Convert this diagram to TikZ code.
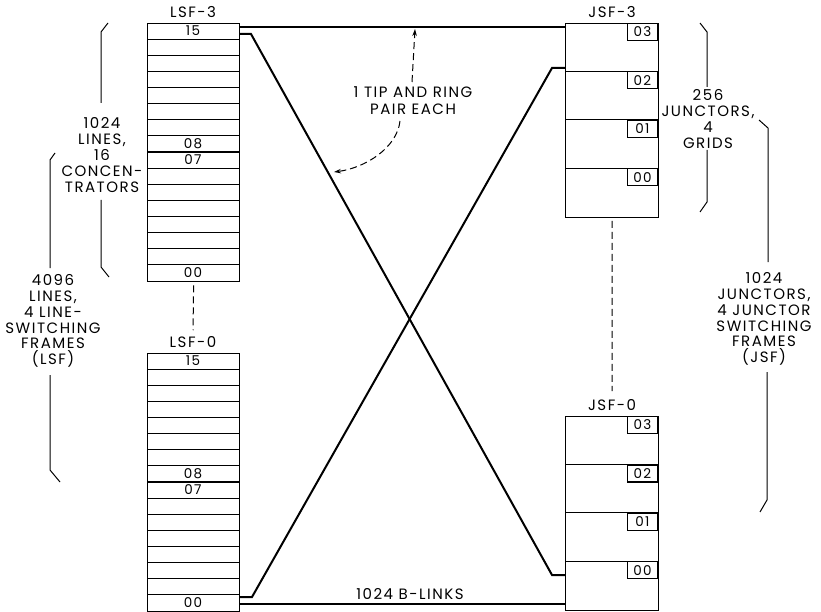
\documentclass[tikz,border=0pt]{standalone}
\usepackage{fontspec}
\setmainfont{Poppins}[LetterSpace=10]
\usetikzlibrary{arrows.meta}

\begin{document}
\begin{tikzpicture}[x=1pt, y=-1pt,
    txt/.style={font=\fontsize{15}{15.8}\selectfont, align=center, inner sep=0pt},
    num/.style={font=\fontsize{13.5}{14}\selectfont, inner sep=0pt},
    frame/.style={draw, line width=1.3pt, inner sep=0pt},
    link/.style={line width=2pt},
    note/.style={dashed, line width=1pt, dash pattern=on 7pt off 4pt}]
  \useasboundingbox (0,0) rectangle (821,612);
  % line switching frames
  \foreach \nm/\top/\lbl in {lsf3/23/LSF-3, lsf0/353/LSF-0} {
    \node[frame, minimum width=92, minimum height=258, anchor=north west] (\nm) at (147,\top) {};
    \node[txt] (\nm-lbl) at (193,\top-11) {\lbl};
    \foreach \i in {1,...,15}
      \draw[line width=1pt] (147,\top+\i*16.125) -- (239,\top+\i*16.125);
    \draw[line width=1.8pt] (147,\top+129) -- (239,\top+129);
    \node[num] at (193,\top+8) {15};
    \node[num] at (193,\top+121) {08};
    \node[num] at (193,\top+137) {07};
    \node[num] at (193,\top+250) {00};
  }
  % junctor switching frames
  \foreach \nm/\top/\lbl in {jsf3/23/JSF-3, jsf0/416/JSF-0} {
    \node[frame, minimum width=93, minimum height=193.6, anchor=north west] (\nm) at (565,\top) {};
    \node[txt] (\nm-lbl) at (612,\top-11) {\lbl};
    \foreach \k in {1,2,3}
      \draw[line width=1.2pt] (565,\top+\k*48.4) -- (658,\top+\k*48.4);
    \foreach \g/\k in {03/0, 02/1, 01/2, 00/3}
      \node[frame, num, line width=1.1pt, minimum width=30, minimum height=17, anchor=north east] at (658,\top+\k*48.4) {\g};
  }
  \draw[note] ([yshift=-3pt]lsf3.south) -- ([yshift=6pt]lsf0-lbl.north);
  \draw[note] ([yshift=-3pt]jsf3.south) -- ([yshift=8pt]jsf0-lbl.north);

  % b-links
  \coordinate (L3a) at (239,27);
  \coordinate (J3a) at (565,27);
  \coordinate (L3b) at (239,34);
  \coordinate (B1) at (251,34);
  \coordinate (B2) at (552,575);
  \coordinate (J0a) at (565,575);
  \coordinate (L0a) at (239,597);
  \coordinate (C1) at (252,597);
  \coordinate (C2) at (552,68);
  \coordinate (J3b) at (565,68);
  \coordinate (L0b) at (239,604);
  \coordinate (J0b) at (565,604);
  \draw[link] (L3a) -- (J3a);
  \draw[link] (L3b) -- (B1) -- (B2) -- (J0a);
  \draw[link] (L0a) -- (C1) -- (C2) -- (J3b);
  \draw[link] (L0b) -- (J0b);
  \node[txt] (blinks) at (410,594) {1024 B-LINKS};

  % tip and ring note
  \node[txt, font=\fontsize{15}{17}\selectfont] (pair) at (413,101) {1 TIP AND RING\\PAIR EACH};
  \coordinate (tipA) at (415,29);
  \coordinate (tipB) at (334,172);
  \draw[note, -{Stealth[length=7pt, width=4.5pt]}] (412,82) -- (tipA);
  \draw[note, -{Stealth[length=7pt, width=4.5pt]}] (400,121) .. controls (397,148) and (365,168) .. (tipB);

  % braces
  \draw[line width=1pt] (108,23) -- (101,32) -- (101,103);
  \draw[line width=1pt] (101,200) -- (101,267) -- (109,277);
  \node[txt] (conc) at (102,155) {1024\\LINES,\\16\\CONCEN-\\TRATORS};
  \draw[line width=1pt] (55,153) -- (50,160) -- (50,268);
  \draw[line width=1pt] (50,375) -- (50,470) -- (60,482);
  \node[txt] (lsfall) at (53,321) {4096\\LINES,\\4 LINE-\\SWITCHING\\FRAMES\\(LSF)};
  \draw[line width=1pt] (700,23) -- (707,32) -- (707,87);
  \draw[line width=1pt] (707,150) -- (707,202) -- (700,212);
  \node[txt] (grids) at (708,119) {256\\JUNCTORS,\\4\\GRIDS};
  \draw[line width=1pt] (759,120) -- (768,128) -- (768,262);
  \draw[line width=1pt] (767,372) -- (767,500) -- (760,512);
  \node[txt] (jsfall) at (764,319) {1024\\JUNCTORS,\\4 JUNCTOR\\SWITCHING\\FRAMES\\(JSF)};
\end{tikzpicture}
\end{document}
